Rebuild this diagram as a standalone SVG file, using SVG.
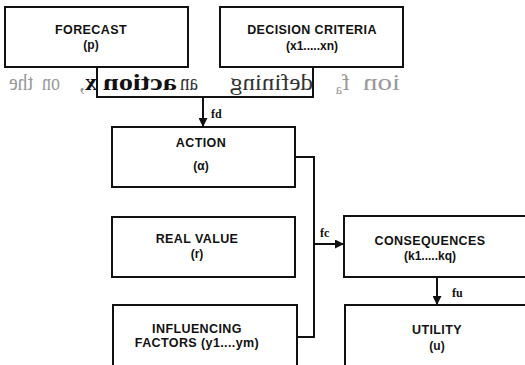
<svg xmlns="http://www.w3.org/2000/svg" width="525" height="365" viewBox="0 0 525 365">
<style>
.box{fill:#fff;stroke:#111;stroke-width:2}
.lbl{font-family:"Liberation Sans",Arial,sans-serif;font-weight:bold;font-size:12.5px;fill:#111;text-anchor:middle;letter-spacing:0.4px}
.sub{font-family:"Liberation Sans",Arial,sans-serif;font-weight:bold;font-size:12px;fill:#111;text-anchor:middle}
.conn{fill:none;stroke:#111;stroke-width:2}
.elbl{font-family:"Liberation Serif","Times New Roman",serif;font-weight:bold;font-size:12px;fill:#111}
.ghost{font-family:"Liberation Serif","Times New Roman",serif;font-size:24px;fill:#999}
.gdark{fill:#333}
.gbold{font-weight:bold;fill:#111}
</style>
<defs>
<marker id="ah" viewBox="0 0 10 10" refX="10" refY="5" markerWidth="9" markerHeight="9" markerUnits="userSpaceOnUse" orient="auto">
<path d="M0,0 L10,5 L0,10 z" fill="#111"/>
</marker>
</defs>
<rect width="525" height="365" fill="#fff"/>

<g id="hidden-box">
<path d="M97,67 V97 H313 V67" class="conn"/>
</g>

<g id="ghost-text" transform="matrix(-1 0 0 1 405 0)">
<text class="ghost" x="5" y="90" textLength="37" lengthAdjust="spacingAndGlyphs">ion</text>
<text class="ghost" x="55" y="90">f<tspan font-size="14" dy="4">a</tspan></text>
<text class="ghost gdark" x="92" y="90" textLength="83" lengthAdjust="spacingAndGlyphs">defining</text>
<text class="ghost gdark" x="207" y="90" textLength="18" lengthAdjust="spacingAndGlyphs">an</text>
<text class="ghost gbold" x="228" y="90" textLength="74" lengthAdjust="spacingAndGlyphs">action</text>
<text class="ghost" x="308" y="90"><tspan class="gbold">x</tspan>,</text>
<text class="ghost" x="345" y="90" textLength="18" lengthAdjust="spacingAndGlyphs">on</text>
<text class="ghost" x="372" y="90" textLength="24" lengthAdjust="spacingAndGlyphs">the</text>
</g>

<g id="forecast">
<rect class="box" x="5" y="7" width="183" height="60"/>
<text class="lbl" x="91" y="34">FORECAST</text>
<text class="sub" x="91" y="49">(p)</text>
</g>

<g id="decision-criteria">
<rect class="box" x="220" y="7" width="183" height="60"/>
<text class="lbl" x="312" y="34">DECISION CRITERIA</text>
<text class="sub" x="312" y="50">(x1.....xn)</text>
</g>

<g id="action">
<rect class="box" x="112" y="127" width="183" height="60"/>
<text class="lbl" x="201" y="147">ACTION</text>
<text class="sub" x="201" y="170">(α)</text>
</g>

<g id="real-value">
<rect class="box" x="112" y="217" width="183" height="60"/>
<text class="lbl" x="197" y="243">REAL VALUE</text>
<text class="sub" x="197" y="258">(r)</text>
</g>

<g id="influencing-factors">
<rect class="box" x="113" y="305" width="184" height="70"/>
<text class="lbl" x="197" y="333">INFLUENCING</text>
<text class="lbl" x="197" y="347">FACTORS (y1....ym)</text>
</g>

<g id="consequences">
<rect class="box" x="344" y="216" width="190" height="61"/>
<text class="lbl" x="430" y="245">CONSEQUENCES</text>
<text class="sub" x="430" y="260">(k1.....kq)</text>
</g>

<g id="utility">
<rect class="box" x="345" y="305" width="190" height="70"/>
<text class="lbl" x="437" y="334">UTILITY</text>
<text class="sub" x="437" y="350">(u)</text>
</g>

<g id="connectors">
<path class="conn" d="M203,97 V127" marker-end="url(#ah)"/>
<text class="elbl" x="211" y="118">fd</text>
<path class="conn" d="M295,157 H314 V337 H297"/>
<path class="conn" d="M314,244 H344" marker-end="url(#ah)"/>
<text class="elbl" x="320" y="237">fc</text>
<path class="conn" d="M437,277 V305" marker-end="url(#ah)"/>
<text class="elbl" x="452" y="297">fu</text>
</g>
</svg>
